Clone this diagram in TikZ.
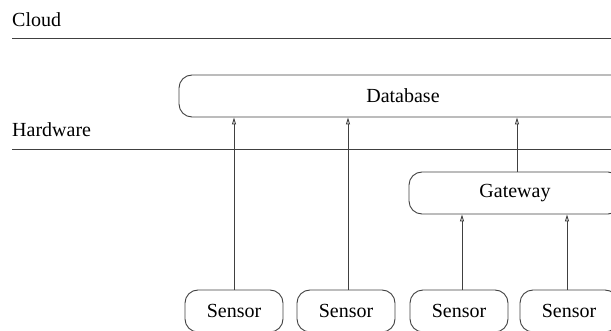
\documentclass[tikz,border=0pt]{standalone}
\usepackage{fontspec}
\setmainfont{Liberation Serif}
\usetikzlibrary{arrows.meta}
\definecolor{ink}{HTML}{404040}
\begin{document}
\begin{tikzpicture}[x=1pt,y=-1pt,
  box/.style={draw=ink,line width=0.9pt,rounded corners=13pt,minimum height=42pt,inner sep=0pt,font=\fontsize{20}{24}\selectfont},
  lbl/.style={anchor=base west,inner sep=0pt,font=\fontsize{20}{24}\selectfont},
  sep/.style={draw=ink,line width=0.9pt},
  arr/.style={draw=ink,line width=0.9pt,-{Triangle[open,length=7pt,width=4pt]}}]
\useasboundingbox (0,0) rectangle (611,331);
\clip (0,0) rectangle (611,331);
\node[lbl] (cloud) at (12,27) {Cloud};
\node[lbl] (hw) at (12,137) {Hardware};
\coordinate (c1) at (12,38); \coordinate (c2) at (611,38);
\coordinate (h1) at (12,149); \coordinate (h2) at (611,149);
\draw[sep] (c1) -- (c2);
\draw[sep] (h1) -- (h2);
\node[box,minimum width=448pt] (db) at (403,96) {Database};
\node[box,minimum width=212pt] (gw) at (515,193) {Gateway};
\node[box,minimum width=98pt] (s1) at (234,311) {Sensor};
\node[box,minimum width=98pt] (s2) at (346,311) {Sensor};
\node[box,minimum width=98pt] (s3) at (459,311) {Sensor};
\node[box,minimum width=98pt] (s4) at (569,311) {Sensor};
\draw[arr] (s1.north) -- (s1.north |- db.south);
\draw[arr] ([xshift=2pt]s2.north) -- ([xshift=2pt]s2.north |- db.south);
\draw[arr] ([xshift=2pt]gw.north) -- ([xshift=2pt]gw.north |- db.south);
\draw[arr] ([xshift=3pt]s3.north) -- ([xshift=3pt]s3.north |- gw.south);
\draw[arr] ([xshift=-2pt]s4.north) -- ([xshift=-2pt]s4.north |- gw.south);
\end{tikzpicture}
\end{document}
